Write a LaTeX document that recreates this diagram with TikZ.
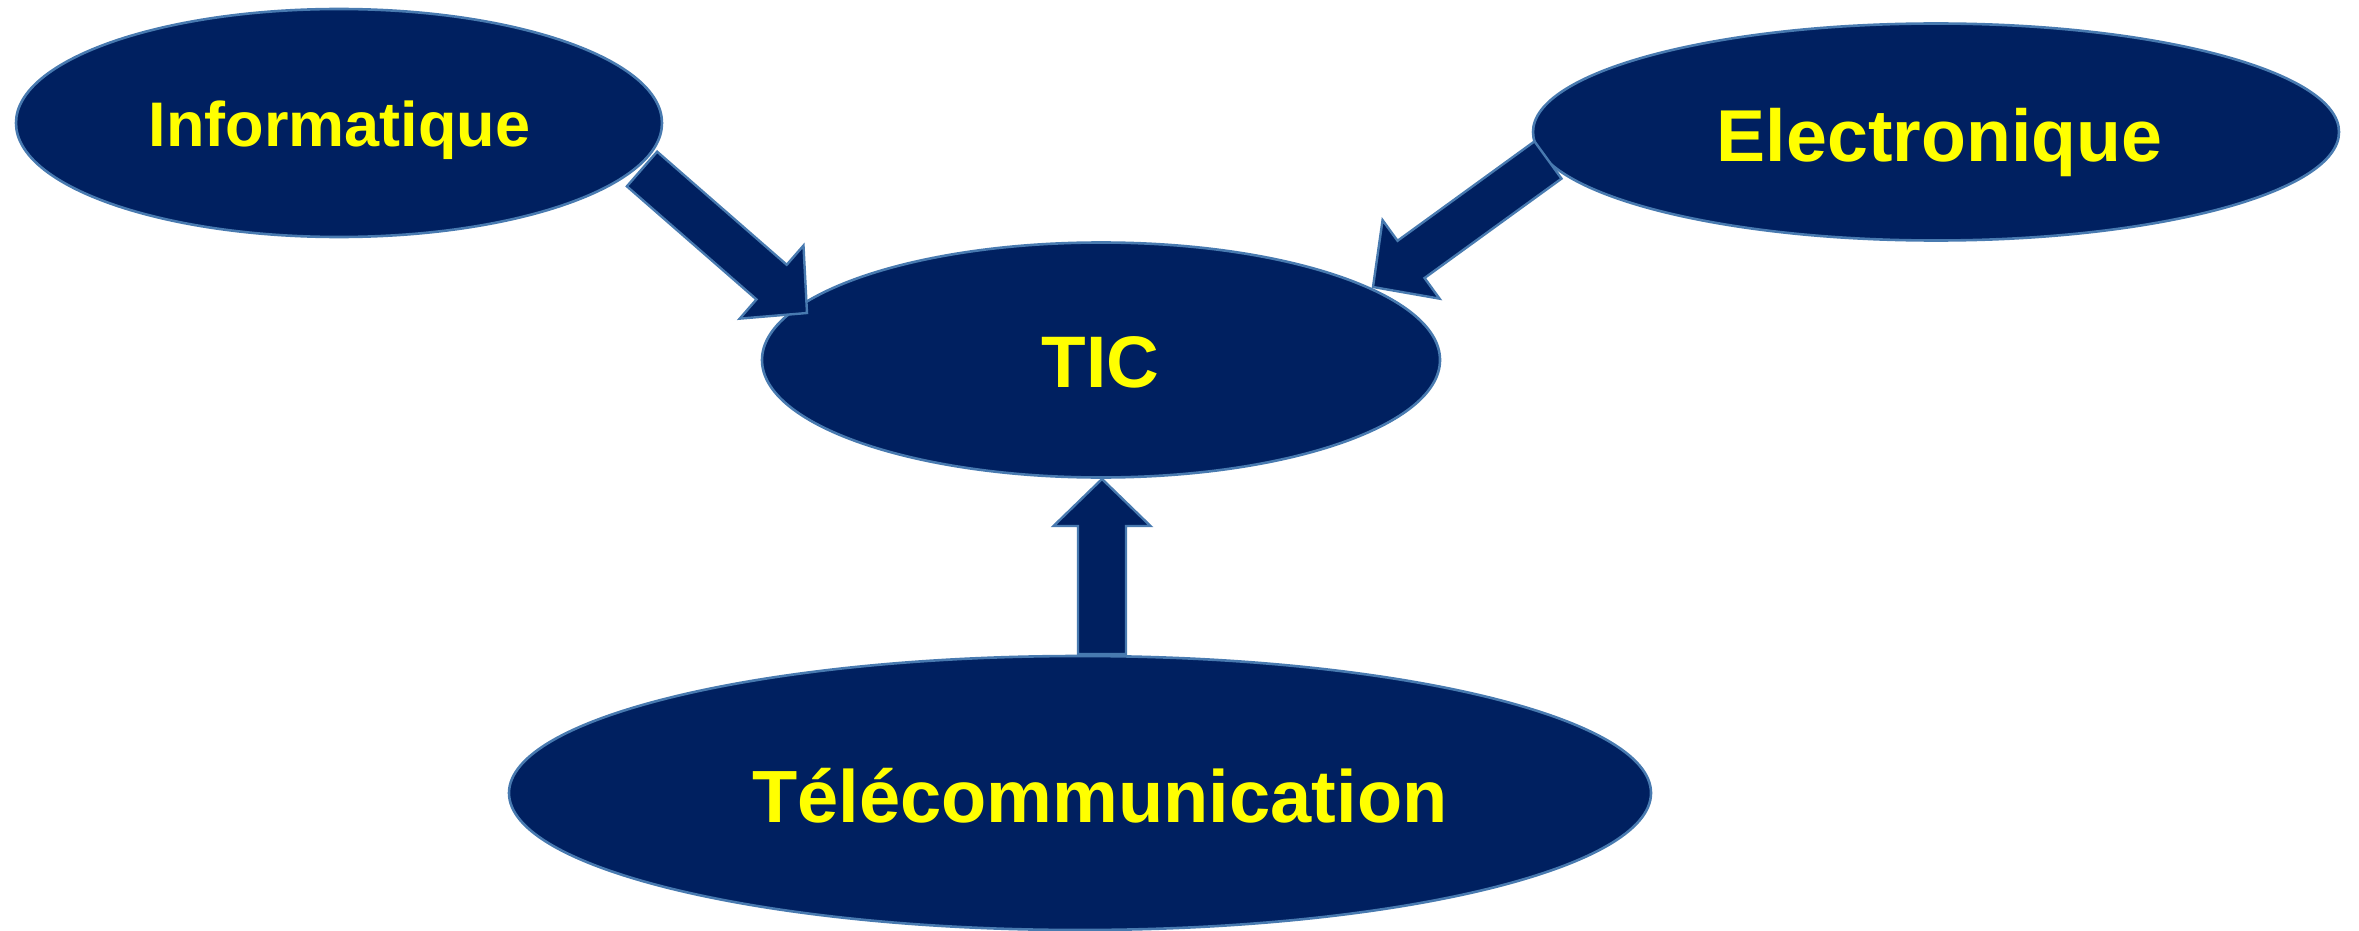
\documentclass[tikz,border=0pt]{standalone}
\usepackage{fontspec}
\setmainfont{Liberation Sans}
\usetikzlibrary{shapes.geometric,calc}
\definecolor{navy}{RGB}{0,32,96}
\definecolor{rim}{RGB}{72,122,176}
\definecolor{txt}{RGB}{255,255,0}
\tikzset{
  oval/.style={ellipse, draw=rim, fill=navy, line width=2.6pt, inner sep=0pt},
  lbl/.style={text=txt, font=\bfseries, inner sep=0pt, anchor=base},
  blk/.style={draw=rim, fill=navy, line width=2.4pt, line join=miter}
}
\begin{document}
\begin{tikzpicture}[x=1pt,y=-1pt]
\useasboundingbox (0,0) rectangle (2359,931);
\node[oval, minimum width=646pt, minimum height=228pt] (inf) at (339,123) {};
\node[oval, minimum width=806pt, minimum height=217pt] (ele) at (1936,132) {};
\node[oval, minimum width=678pt, minimum height=235pt] (tic) at (1101,360) {};
\node[oval, minimum width=1142pt, minimum height=274pt] (tel) at (1080,793) {};
\node[lbl, font=\bfseries\fontsize{63pt}{63pt}\selectfont] (tinf) at (339.5,147) {Informatique};
\node[lbl, font=\bfseries\fontsize{73.5pt}{74pt}\selectfont] (tele) at (1939.5,161) {Electronique};
\node[lbl, font=\bfseries\fontsize{73pt}{73pt}\selectfont] (ttic) at (1100.5,387) {TIC};
\node[lbl, font=\bfseries\fontsize{74pt}{74pt}\selectfont] (ttel) at (1100,822) {Télécommunication};
\coordinate (a1t) at (642,169);
\coordinate (a1h) at (807,313);
\coordinate (a2t) at (1548,160);
\coordinate (a2h) at (1373,287);
\coordinate (a3t) at (1102,654);
\coordinate (a3h) at (1102,479);
\coordinate (bb1) at ($(a1h)!47pt!(a1t)$);
\coordinate (bb2) at ($(a2h)!47pt!(a2t)$);
\coordinate (bb3) at ($(a3h)!47pt!(a3t)$);
\path[blk] ($(a1t)!23pt!90:(a1h)$) -- ($(bb1)!23pt!90:(a1h)$) -- ($(bb1)!48.5pt!90:(a1h)$)
  -- (a1h) -- ($(bb1)!48.5pt!-90:(a1h)$) -- ($(bb1)!23pt!-90:(a1h)$) -- ($(a1t)!23pt!-90:(a1h)$) -- cycle;
\path[blk] ($(a2t)!23pt!90:(a2h)$) -- ($(bb2)!23pt!90:(a2h)$) -- ($(bb2)!48.5pt!90:(a2h)$)
  -- (a2h) -- ($(bb2)!48.5pt!-90:(a2h)$) -- ($(bb2)!23pt!-90:(a2h)$) -- ($(a2t)!23pt!-90:(a2h)$) -- cycle;
\path[blk] ($(a3t)!24pt!90:(a3h)$) -- ($(bb3)!24pt!90:(a3h)$) -- ($(bb3)!48.5pt!90:(a3h)$)
  -- (a3h) -- ($(bb3)!48.5pt!-90:(a3h)$) -- ($(bb3)!24pt!-90:(a3h)$) -- ($(a3t)!24pt!-90:(a3h)$) -- cycle;
\end{tikzpicture}
\end{document}
